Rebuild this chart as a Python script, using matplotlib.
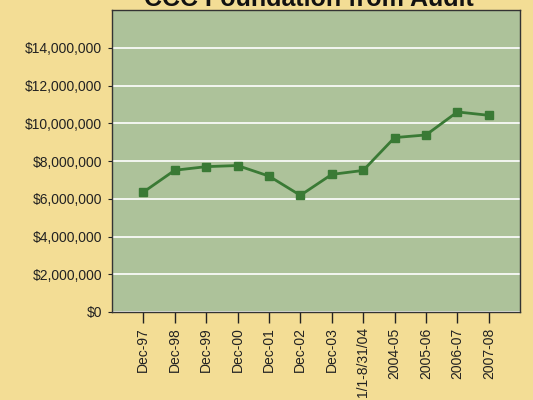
import matplotlib
matplotlib.use("Agg")
import matplotlib.pyplot as plt
from matplotlib.ticker import FuncFormatter

# ==========================================================
# Data
# ==========================================================

periods = ["Dec-97", "Dec-98", "Dec-99", "Dec-00", "Dec-01", "Dec-02",
           "Dec-03", "1/1-8/31/04", "2004-05", "2005-06", "2006-07", "2007-08"]

values = [6350000, 7510000, 7700000, 7760000, 7200000, 6180000,
          7290000, 7500000, 9240000, 9380000, 10600000, 10420000]

yticks = [0, 2000000, 4000000, 6000000, 8000000, 10000000, 12000000, 14000000]

# ==========================================================
# Plot
# ==========================================================

plt.rcParams["font.family"] = ["Liberation Sans", "DejaVu Sans"]

fig = plt.figure(figsize=(5.33, 4.0), dpi=100, facecolor="#F3DD95")
ax = fig.add_axes([0.210, 0.22, 0.766, 0.755])
ax.set_facecolor("#ADC29A")

x = list(range(len(periods)))

ax.plot(
    x,
    values,
    color="#3A7A35",
    linewidth=2.0,
    marker="s",
    markersize=6,
    zorder=3
)

ax.set_xlim(-1, 12)
ax.set_ylim(0, 16000000)

ax.set_yticks(yticks)
ax.yaxis.set_major_formatter(FuncFormatter(lambda v, p: f"${v:,.0f}"))
ax.set_xticks(x)
ax.set_xticklabels(periods, rotation=90)

ax.grid(axis="y", color="white", linewidth=1.2, zorder=1)
ax.set_axisbelow(True)

for s in ax.spines.values():
    s.set_color("#333333")
    s.set_linewidth(1.0)

ax.tick_params(axis="y", length=3, width=0.8, colors="#222222", labelsize=10, pad=4)
ax.tick_params(axis="x", length=8, width=1.0, colors="#222222", labelsize=10, pad=3)

# title sits partly above the top edge, as in the source
fig.text(
    0.58, 0.985,
    "CCC Foundation from Audit",
    ha="center",
    va="baseline",
    fontsize=18,
    fontweight="bold",
    color="#111111"
)

fig.savefig("out.png", dpi=100, facecolor=fig.get_facecolor())
